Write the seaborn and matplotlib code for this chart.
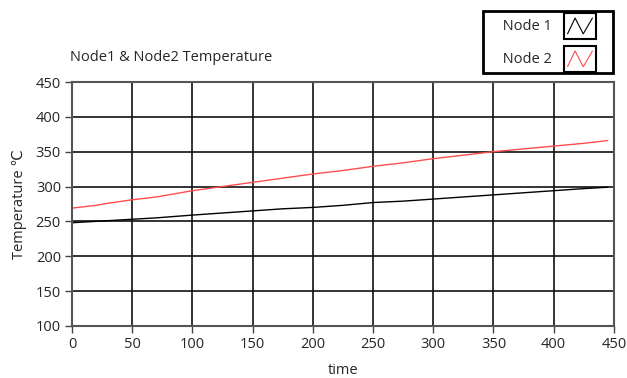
import numpy as np
import pandas as pd
import seaborn as sns
import matplotlib.pyplot as plt
from matplotlib.legend_handler import HandlerBase
from matplotlib.patches import Rectangle
from matplotlib.lines import Line2D

# values
time = [0, 10, 20, 30, 50, 70, 100, 125, 150, 175, 200, 225, 250, 275, 300, 325, 350, 375, 400, 425, 445]
node1 = [248, 249, 250, 251, 253, 255, 259, 262, 265, 268, 270, 273, 277, 279, 282, 285, 288, 291, 294, 297, 299]
node2 = [269, 271, 273, 276, 281, 285, 294, 300, 306, 312, 318, 323, 329, 334, 340, 345, 350, 354, 358, 362, 366]
series_names = ['Node 1', 'Node 2']
line_colors = ['#000000', '#ff4d4d']

df = pd.DataFrame({'time': time * 2,
                   'temp': node1 + node2,
                   'node': [series_names[0]] * len(time) + [series_names[1]] * len(time)})

sns.set_style('white')
plt.rcParams['font.family'] = ['Open Sans', 'DejaVu Sans']
FS = 10.5


class ZigzagHandler(HandlerBase):
    # legend glyph: box with a zigzag inside, empty space to its right
    def create_artists(self, legend, orig_handle, xdescent, ydescent, width, height, fontsize, trans):
        w = width * 0.68
        x0, y0, h = -xdescent, -ydescent, height
        box = Rectangle((x0, y0), w, h, facecolor='white', edgecolor='black', lw=1.5, transform=trans)
        xs = [x0 + w * 0.12, x0 + w * 0.35, x0 + w * 0.6, x0 + w * 0.88]
        ys = [y0 + h * 0.2, y0 + h * 0.8, y0 + h * 0.2, y0 + h * 0.8]
        zz = Line2D(xs, ys, color=orig_handle.get_color(), lw=0.8, transform=trans)
        return [box, zz]


fig = plt.figure(figsize=(6.27, 3.78), dpi=100)
ax = fig.add_axes([0.115, 0.138, 0.864, 0.645])

sns.lineplot(data=df, x='time', y='temp', hue='node', palette=line_colors,
             lw=1.0, ax=ax, legend=False)

ax.set_xlim(0, 450)
ax.set_ylim(100, 450)
ax.set_xticks(np.arange(0, 451, 50))
ax.set_yticks(np.arange(100, 451, 50))
ax.grid(True, color='#111111', lw=1.2)
ax.set_axisbelow(True)
for s in ax.spines.values():
    s.set_color('#555555')
    s.set_linewidth(1.5)
ax.tick_params(axis='both', direction='out', length=5, width=1, color='#444444',
               labelsize=FS, pad=3, bottom=True, left=True)
ax.set_xlabel('time', fontsize=FS, labelpad=8)
ax.set_ylabel('Temperature ℃', fontsize=FS, labelpad=6)

fig.text(0.112, 0.847, 'Node1 & Node2 Temperature', fontsize=FS, ha='left', va='center')

handles = [Line2D([], [], color=c) for c in line_colors]
labels = ['     ' + n for n in series_names]
leg = fig.legend(handles, labels, loc='upper right', bbox_to_anchor=(0.978, 0.97),
                 handler_map={Line2D: ZigzagHandler()}, markerfirst=False,
                 fontsize=FS, frameon=True, fancybox=False, framealpha=1,
                 handlelength=3.3, handleheight=2.4, labelspacing=0.45,
                 borderpad=0.1, handletextpad=0.8, borderaxespad=0)
leg.get_frame().set_edgecolor('black')
leg.get_frame().set_linewidth(2)

fig.savefig('out.png', dpi=100)
